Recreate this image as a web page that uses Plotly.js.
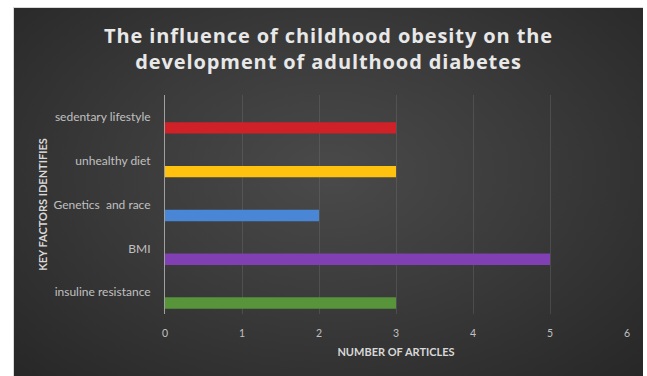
<!DOCTYPE html>
<html>
<head>
<meta charset="utf-8">
<script src="https://cdn.plot.ly/plotly-3.0.1.min.js"></script>
<style>
  html, body { margin: 0; padding: 0; background: #ffffff; width: 647px; height: 376px; overflow: hidden; }
  #frame { position: absolute; left: 13px; top: 7px; width: 630px; height: 369px;
    background: #d8d8d8; }
  #chart { position: absolute; left: 14px; top: 8px; width: 629px; height: 368px;
    background: radial-gradient(ellipse at 50% 45%, #4a4a4a 0%, #3b3b3b 45%, #272727 100%); }
  #chart .gtitle { letter-spacing: 0.9px; }
</style>
</head>
<body>
<div id="frame"></div>
<div id="chart"></div>
<script>
const categories = ["insuline resistance", "BMI", "Genetics  and race", "unhealthy diet", "sedentary lifestyle"];
const articleCounts = [3, 5, 2, 3, 3];
const barColors = ["#57943a", "#8040b4", "#4a86d6", "#ffc20e", "#d02028"];
const xTicks = [0, 1, 2, 3, 4, 5, 6];

const trace = {
  type: "bar",
  orientation: "h",
  y: categories,
  x: articleCounts,
  width: 0.26,
  offset: -0.38,
  marker: { color: barColors, line: { width: 0 } },
  hoverinfo: "x+y"
};

const layout = {
  width: 629,
  height: 368,
  paper_bgcolor: "rgba(0,0,0,0)",
  plot_bgcolor: "rgba(0,0,0,0)",
  margin: { l: 151, r: 16, t: 87, b: 62 },
  showlegend: false,
  title: {
    text: "The influence of childhood obesity on the<br>development of adulthood diabetes",
    font: { family: "'Open Sans', Lato, sans-serif", size: 20, color: "#e8e8e8", weight: "bold" },
    x: 0.5, xanchor: "center",
    yref: "container", y: 0.905, yanchor: "top"
  },
  xaxis: {
    range: [0, 6],
    tickvals: xTicks,
    ticktext: xTicks.map(String),
    showgrid: true,
    gridcolor: "rgba(120,120,120,0.32)",
    gridwidth: 1,
    zeroline: false,
    showline: false,
    ticks: "",
    ticklabelstandoff: 11,
    tickfont: { family: "Lato, sans-serif", size: 10.5, color: "#c0c0c0" },
    title: { text: "NUMBER OF ARTICLES", font: { family: "Lato, sans-serif", size: 11, color: "#d8d8d8", weight: "bold" }, standoff: 10 }
  },
  yaxis: {
    type: "category",
    categoryorder: "array",
    categoryarray: categories,
    range: [-0.5, 4.5],
    showgrid: false,
    zeroline: false,
    showline: true,
    linecolor: "#a0a0a0",
    linewidth: 1,
    ticks: "",
    ticklabelstandoff: 11,
    tickfont: { family: "Lato, sans-serif", size: 12, color: "#c0c0c0" },
    title: { text: "KEY FACTORS IDENTIFIES", font: { family: "Lato, sans-serif", size: 11, color: "#d8d8d8", weight: "bold" }, standoff: 3 }
  }
};

Plotly.newPlot("chart", [trace], layout, { displayModeBar: false, staticPlot: true });
</script>
</body>
</html>
